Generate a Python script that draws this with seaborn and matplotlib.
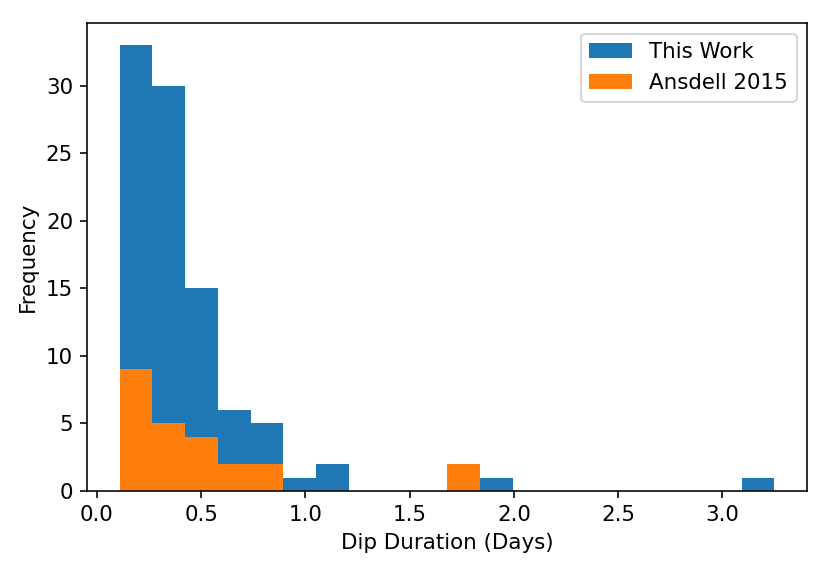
import numpy as np
import pandas as pd
import matplotlib
matplotlib.use("Agg")
import matplotlib.pyplot as plt
import seaborn as sns

sns.set_style("ticks", {"axes.edgecolor": "black", "text.color": "black",
                        "xtick.color": "black", "ytick.color": "black",
                        "axes.labelcolor": "black"})
plt.rcParams['font.size'] = 10.7

# shared bins (20 bins from 0.11 to 3.25 days)
bin_start = 0.11
bin_stop = 3.25
n_bins = 20
edges = np.linspace(bin_start, bin_stop, n_bins + 1)
centers = (edges[:-1] + edges[1:]) / 2

# counts per bin
this_work = [33, 30, 15, 6, 5, 1, 2, 0, 0, 0, 0, 1, 0, 0, 0, 0, 0, 0, 0, 1]
ansdell_2015 = [9, 5, 4, 2, 2, 0, 0, 0, 0, 0, 2, 0, 0, 0, 0, 0, 0, 0, 0, 0]

df = pd.DataFrame({'duration': centers,
                   'this_work': this_work,
                   'ansdell': ansdell_2015})

fig = plt.figure(figsize=(831 / 144, 572 / 144), dpi=144)
ax = fig.add_axes([0.1047, 0.1416, 0.8667, 0.818])

sns.histplot(data=df, x='duration', weights='this_work', bins=n_bins,
             binrange=(bin_start, bin_stop), ax=ax,
             color='#1f77b4', alpha=1, edgecolor='none',
             linewidth=0, label='This Work')
sns.histplot(data=df, x='duration', weights='ansdell', bins=n_bins,
             binrange=(bin_start, bin_stop), ax=ax,
             color='#ff7f0e', alpha=1, edgecolor='none',
             linewidth=0, label='Ansdell 2015')

ax.set_xlim(-0.047, 3.407)
ax.set_ylim(0, 34.65)
ax.set_xticks([0.0, 0.5, 1.0, 1.5, 2.0, 2.5, 3.0])
ax.set_yticks([0, 5, 10, 15, 20, 25, 30])
ax.tick_params(labelsize=10.7)
ax.set_xlabel('Dip Duration (Days)', fontsize=10.7)
ax.set_ylabel('Frequency', fontsize=10.7)
ax.legend(loc='upper right', fontsize=10.7)

fig.savefig('out.png', dpi=144)
